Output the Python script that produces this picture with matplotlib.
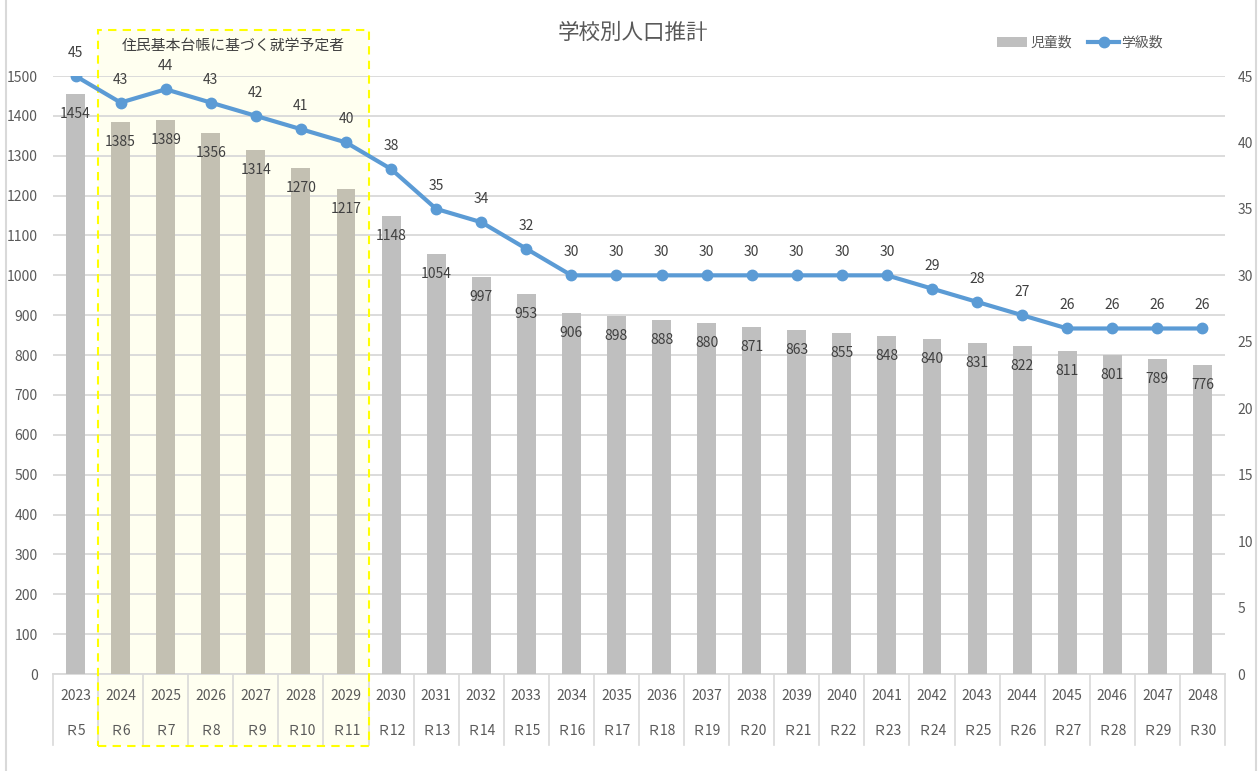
import numpy as np
import matplotlib.pyplot as plt
from matplotlib.patches import Rectangle

plt.rcParams['font.family'] = ['Noto Sans CJK JP', 'DejaVu Sans']

years = [str(y) for y in range(2023, 2049)]
reiwa = ['Ｒ' + str(r) for r in range(5, 31)]
children = [1454, 1385, 1389, 1356, 1314, 1270, 1217, 1148, 1054, 997, 953, 906, 898,
            888, 880, 871, 863, 855, 848, 840, 831, 822, 811, 801, 789, 776]
classes = [45, 43, 44, 43, 42, 41, 40, 38, 35, 34, 32, 30, 30,
           30, 30, 30, 30, 30, 30, 29, 28, 27, 26, 26, 26, 26]
box_first, box_last = 1, 6   # 2024-2029 : 住民基本台帳に基づく
box_label = '住民基本台帳に基づく就学予定者'

txt = '#595959'
fs = 10
W, H = 1259, 771
fig = plt.figure(figsize=(W / 100, H / 100), dpi=100)
ax = fig.add_axes([53 / W, 1 - 674 / H, (1225 - 53) / W, (674 - 76) / H])
ax2 = ax.twinx()

x = np.arange(len(years))
colors = ['#C3C0B2' if box_first <= i <= box_last else '#BFBFBF' for i in x]
bars = ax.bar(x, children, width=0.42, color=colors, zorder=3, label='児童数')
for xi, v in zip(x, children):
    ax.annotate(str(v), (xi, v), xytext=(0, -20), textcoords='offset pixels',
                ha='center', va='center', fontsize=fs, color='#404040', zorder=6)

ax.set_xlim(-0.5, len(years) - 0.5)
ax.set_ylim(0, 1500)
ax.set_yticks(range(0, 1501, 100))
ax.grid(axis='y', color='#D9D9D9', lw=1.3, zorder=1)
ax.set_axisbelow(True)
ax.set_xticks([])
ax.tick_params(axis='y', length=0, labelsize=fs, labelcolor=txt, pad=11)
for s in ['top', 'right', 'left']:
    ax.spines[s].set_visible(False)
ax.spines['bottom'].set_color('#D9D9D9')
ax.spines['bottom'].set_linewidth(1.3)

ax2.plot(x, classes, color='#5B9BD5', lw=3, marker='o', ms=7.5, zorder=5, label='学級数')
for xi, v in zip(x, classes):
    ax2.annotate(str(v), (xi, v), xytext=(0, 23), textcoords='offset pixels',
                 ha='center', va='center', fontsize=fs, color='#404040')
ax2.set_ylim(0, 45)
ax2.set_yticks(range(0, 46, 5))
ax2.tick_params(axis='y', length=0, labelsize=fs, labelcolor=txt, pad=9)
for s in ax2.spines.values():
    s.set_visible(False)
ax.set_zorder(ax2.get_zorder() - 1)
ax2.patch.set_visible(False)

# two level category axis
tr = ax.get_xaxis_transform()
for xi in x:
    ax.text(xi, -0.036, years[xi], transform=tr, ha='center', va='center', fontsize=fs, color=txt)
    ax.text(xi, -0.095, reiwa[xi], transform=tr, ha='center', va='center', fontsize=fs, color=txt)
for b in np.arange(-0.5, len(years), 1.0):
    ax.plot([b, b], [0, -0.118], transform=tr, color='#D9D9D9', lw=1.2, clip_on=False)

# yellow box
ax.add_patch(Rectangle((box_first - 0.5, -0.12), box_last - box_first + 1, 1.197, transform=tr,
                       facecolor='#FFFFF0', edgecolor='none', zorder=0, clip_on=False))
ax.add_patch(Rectangle((box_first - 0.5, -0.12), box_last - box_first + 1, 1.197, transform=tr,
                       facecolor='none', edgecolor='#FFFF00', lw=1.5, ls=(0, (4, 3)), zorder=7, clip_on=False))
ax.text((box_first + box_last) / 2, 1.05, box_label, transform=tr, ha='center', va='center',
        fontsize=10.7, color='#404040')

fig.text(633 / W, 1 - 33 / H, '学校別人口推計', ha='center', va='center', fontsize=15.5, color=txt)

handles = [bars, ax2.get_lines()[0]]
fig.legend(handles, ['児童数', '学級数'], loc='center', bbox_to_anchor=(1080 / W, 1 - 43 / H),
           ncol=2, frameon=False, fontsize=fs, labelcolor=txt, handlelength=2.2,
           handletextpad=0.2, columnspacing=1.2)

# chart border
fig.add_artist(plt.Line2D([6 / W, 6 / W], [0, 1], color='#D9D9D9', lw=1.5))
fig.add_artist(plt.Line2D([1256 / W, 1256 / W], [0, 1], color='#D9D9D9', lw=1.5))

fig.savefig('out.png', dpi=100)
